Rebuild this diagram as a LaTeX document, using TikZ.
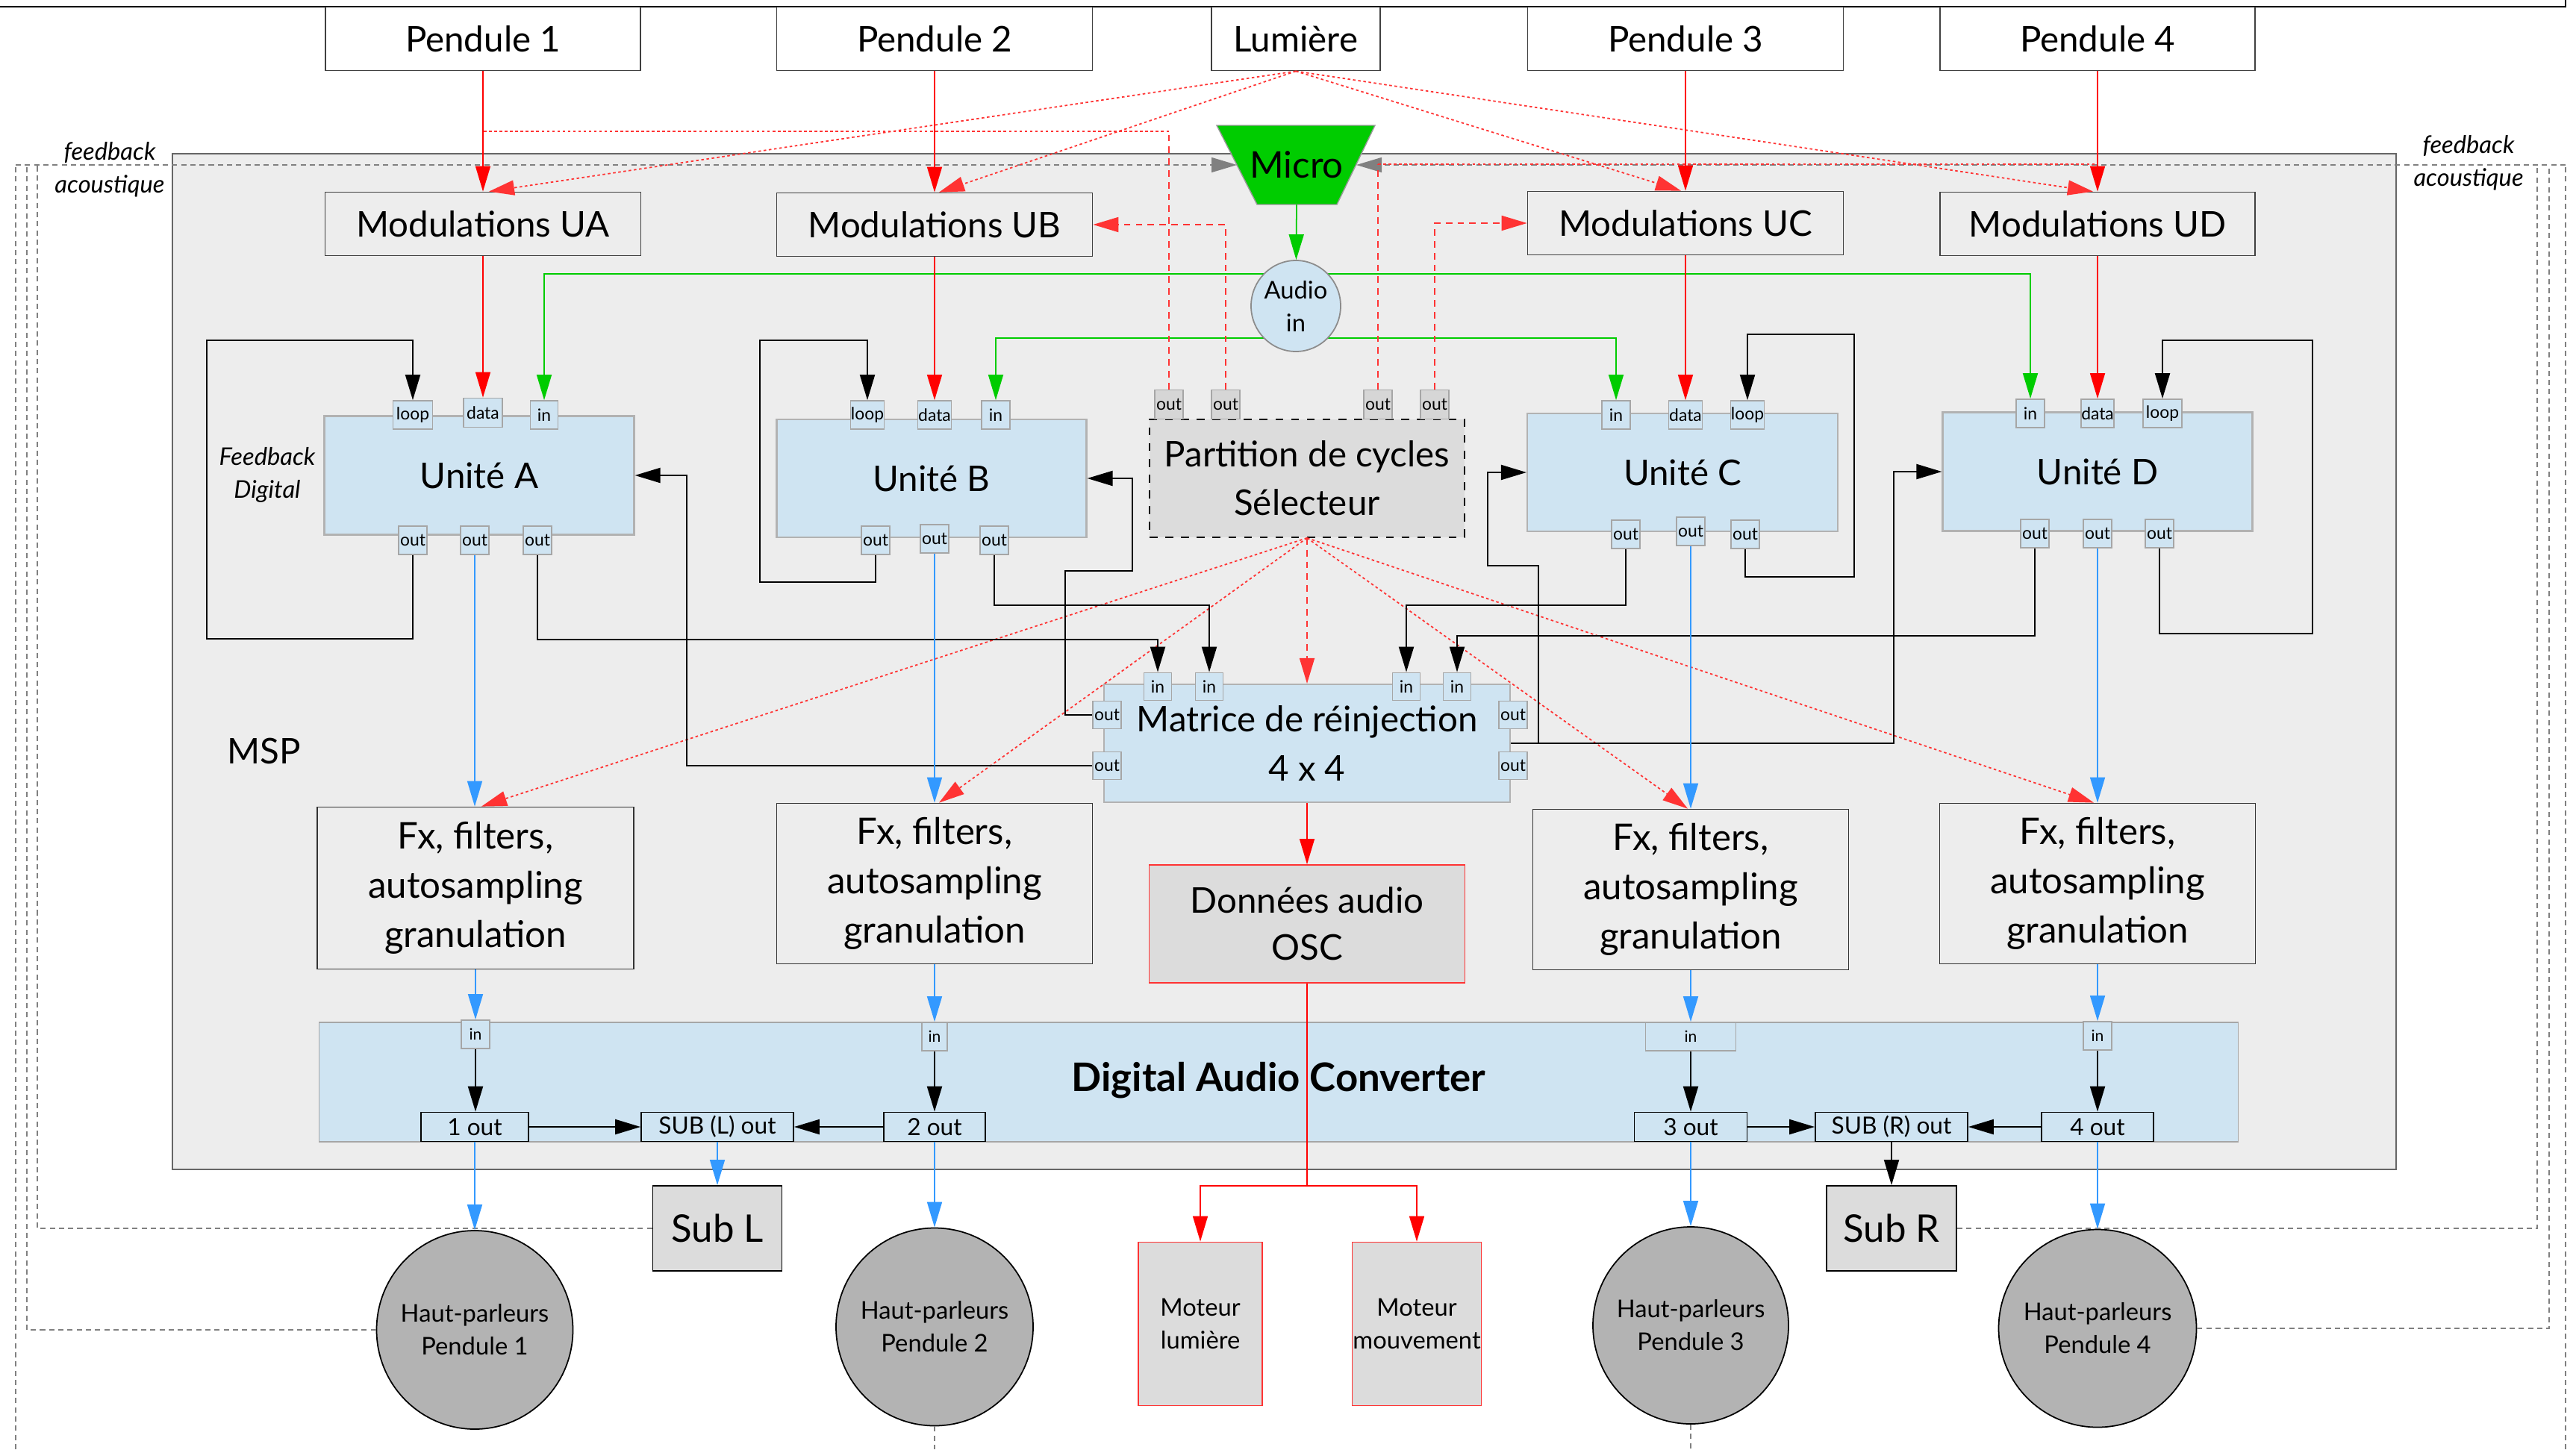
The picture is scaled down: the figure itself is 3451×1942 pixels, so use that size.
\documentclass[tikz,border=0pt]{standalone}
\usepackage{fontspec}
\setmainfont{Lato}
\usetikzlibrary{arrows.meta,shapes.geometric,calc}
\pgfdeclarelayer{back}
\pgfdeclarelayer{under}
\pgfsetlayers{back,under,main}
\newcommand\myfs[2]{\fontsize{#1}{#2}\selectfont}
\definecolor{bggray}{RGB}{237,237,237}
\definecolor{lblue}{RGB}{207,228,242}
\definecolor{selgray}{RGB}{220,220,220}
\definecolor{portgray}{RGB}{214,214,214}
\definecolor{hpgray}{RGB}{179,179,179}
\definecolor{micgreen}{RGB}{0,204,0}
\definecolor{rcol}{RGB}{255,0,0}
\definecolor{rdcol}{RGB}{255,51,51}
\definecolor{bcol}{RGB}{51,153,255}
\definecolor{gcol}{RGB}{0,204,0}
\definecolor{fbgray}{RGB}{128,128,128}
\tikzset{
  wh/.style 2 args={minimum width=#1*0.01cm, minimum height=#2*0.01cm},
  tbox/.style={draw=black!75, line width=0.5pt, fill=white, inner sep=0pt, align=center, font=\myfs{13.5}{18.5}},
  mbox/.style={tbox, fill=bggray},
  unit/.style={draw=black!30, line width=0.6pt, fill=lblue, inner sep=0pt, align=center, font=\myfs{13.5}{18.5}},
  port/.style={draw=black!35, line width=0.5pt, fill=lblue, inner sep=0pt, font=\myfs{6.5}{7}},
  gport/.style={port, fill=portgray},
  fxbox/.style={draw=black!80, line width=0.5pt, fill=bggray, inner sep=0pt, align=center, font=\myfs{14}{18.8}},
  dinport/.style={draw=black!35, line width=0.5pt, fill=lblue, inner sep=0pt, font=\myfs{6}{7}},
  doutport/.style={draw=black, line width=0.5pt, fill=lblue, inner sep=0pt, font=\myfs{9}{10}},
  redbox/.style={draw=rdcol, line width=0.5pt, fill=selgray, inner sep=0pt, align=center},
  spk/.style={ellipse, draw=black, line width=0.5pt, fill=hpgray, inner sep=0pt},
  spktext/.style={align=center, font=\myfs{9.3}{12.5}},
  tipb/.style={-{Triangle[length=0.34cm,width=0.2cm]}},
  blk/.style={draw=black, line width=0.6pt, tipb},
  rline/.style={draw=rcol, line width=0.45pt, tipb},
  rplain/.style={draw=rcol, line width=0.45pt},
  rdot/.style={draw=rdcol, line width=0.5pt, dash pattern=on 1pt off 1pt},
  rdash/.style={draw=rdcol, line width=0.5pt, dash pattern=on 2.5pt off 2pt},
  bline/.style={draw=bcol, line width=0.45pt, tipb},
  gline/.style={draw=gcol, line width=0.5pt, tipb},
  fb/.style={draw=fbgray, line width=0.4pt, dash pattern=on 2pt off 1.5pt},
}
\begin{document}
\begin{tikzpicture}[x=0.01cm,y=-0.01cm]
\useasboundingbox (0,0) rectangle (3451,1942);

% ---------- MSP container ----------
\begin{pgfonlayer}{back}
\fill[white] (0,0) rectangle (3451,1942);
\node[draw=black!60, line width=0.6pt, fill=bggray, wh={2979}{1361}] (msp) at (1720.5,886.5) {};
\end{pgfonlayer}
\draw[line width=0.6pt] (0,9) -- (3437,9) -- (3437,0);
\node[font=\myfs{13.5}{15}] (msplabel) at (354,1006) {MSP};

% ---------- sources ----------
\node[tbox, wh={422}{85}] (p1) at (647,52) {Pendule 1};
\node[tbox, wh={423}{85}] (p2) at (1252,52) {Pendule 2};
\node[tbox, wh={226}{85}] (lum) at (1736,52) {Lumière};
\node[tbox, wh={423}{85}] (p3) at (2258,52) {Pendule 3};
\node[tbox, wh={422}{85}] (p4) at (2810,52) {Pendule 4};

% ---------- modulations ----------
\node[mbox, wh={423}{85}] (ua) at (647,300) {Modulations UA};
\node[mbox, wh={423}{85}] (ub) at (1252,301) {Modulations UB};
\node[mbox, wh={423}{85}] (uc) at (2258,299) {Modulations UC};
\node[mbox, wh={422}{85}] (ud) at (2810,300) {Modulations UD};

% ---------- micro ----------
\filldraw[fill=micgreen, draw=black!40, line width=0.4pt] (1630,168) -- (1842,168) -- (1791,274) -- (1684,274) -- cycle;
\node[font=\myfs{14}{15}] (micro) at (1737,221) {Micro};
\coordinate (micL) at (1657,221);
\coordinate (micR) at (1817,221);
\coordinate (micB) at (1737,274);
\node[ellipse, draw=black!45, line width=0.5pt, fill=lblue, wh={120}{122}, inner sep=0pt,
      label={[spktext]center:Audio\\in}] (audio) at (1736,410) {};
\coordinate (g1) at (1736,367);
\coordinate (g2) at (1736,453);

% ---------- units ----------
\node[unit, wh={415}{159}] (uA) at (642,637) {Unité A};
\node[unit, wh={415}{158}] (uB) at (1248,641) {Unité B};
\node[unit, wh={416}{158}] (uC) at (2254,633) {Unité C};
\node[unit, wh={415}{159}] (uD) at (2810,632) {Unité D};

\node[port, wh={53}{38}] (Aloop) at (553,556) {loop};
\node[port, wh={52}{39}] (Adata) at (647,553) {data};
\node[port, wh={37}{38}] (Ain) at (729,556) {in};
\node[port, wh={38}{38}] (Ao1) at (553,724) {out};
\node[port, wh={38}{38}] (Ao2) at (636,724) {out};
\node[port, wh={38}{38}] (Ao3) at (720,724) {out};

\node[port, wh={45}{38}] (Bloop) at (1162,556) {loop};
\node[port, wh={45}{38}] (Bdata) at (1252,556) {data};
\node[port, wh={38}{38}] (Bin) at (1334,556) {in};
\node[port, wh={38}{38}] (Bo1) at (1173,724) {out};
\node[port, wh={38}{38}] (Bo2) at (1252,722) {out};
\node[port, wh={38}{38}] (Bo3) at (1332,724) {out};

\node[port, wh={38}{38}] (Cin) at (2165,556) {in};
\node[port, wh={45}{38}] (Cdata) at (2258,556) {data};
\node[port, wh={45}{38}] (Cloop) at (2341,556) {loop};
\node[port, wh={38}{38}] (Co1) at (2178,716) {out};
\node[port, wh={38}{38}] (Co2) at (2265,712) {out};
\node[port, wh={38}{38}] (Co3) at (2338,716) {out};

\node[port, wh={38}{38}] (Din) at (2720,554) {in};
\node[port, wh={44}{38}] (Ddata) at (2810,554) {data};
\node[port, wh={52}{38}] (Dloop) at (2897,554) {loop};
\node[port, wh={38}{38}] (Do1) at (2726,715) {out};
\node[port, wh={38}{38}] (Do2) at (2810,715) {out};
\node[port, wh={38}{38}] (Do3) at (2893,715) {out};

\node[font=\myfs{9.3}{12.5}\itshape, align=center] (fdig) at (358,636) {Feedback\\Digital};

% ---------- selector ----------
\node[draw=black, dashed, line width=0.5pt, fill=selgray, wh={422}{158}, inner sep=0pt, align=center, font=\myfs{13.5}{18.5}] (sel) at (1751,641) {Partition de cycles\\Sélecteur};
\node[gport, wh={38}{39}] (s1) at (1566,542) {out};
\node[gport, wh={38}{39}] (s2) at (1642,542) {out};
\node[gport, wh={38}{39}] (s3) at (1846,542) {out};
\node[gport, wh={38}{39}] (s4) at (1922,542) {out};

% ---------- matrix ----------
\node[unit, wh={544}{158}] (mat) at (1751,996) {Matrice de réinjection\\4 x 4};
\node[port, wh={37}{37}] (mi1) at (1551,920) {in};
\node[port, wh={37}{37}] (mi2) at (1620,920) {in};
\node[port, wh={37}{37}] (mi3) at (1884,920) {in};
\node[port, wh={37}{37}] (mi4) at (1952,920) {in};
\node[port, wh={38}{37}] (ml1) at (1483,958) {out};
\node[port, wh={38}{37}] (ml2) at (1483,1026) {out};
\node[port, wh={38}{37}] (mr1) at (2027,958) {out};
\node[port, wh={38}{37}] (mr2) at (2027,1026) {out};

% ---------- effects ----------
\node[fxbox, wh={424}{217}] (fx1) at (637,1190) {Fx, filters,\\autosampling\\granulation};
\node[fxbox, wh={423}{215}] (fx2) at (1252,1184) {Fx, filters,\\autosampling\\granulation};
\node[fxbox, wh={423}{215}] (fx3) at (2265,1192) {Fx, filters,\\autosampling\\granulation};
\node[fxbox, wh={423}{215}] (fx4) at (2810,1184) {Fx, filters,\\autosampling\\granulation};

\node[redbox, wh={423}{158}, font=\myfs{13.5}{18}] (don) at (1751,1238) {Données audio\\OSC};

% ---------- converter ----------
\node[draw=black!35, line width=0.5pt, fill=lblue, wh={2571}{160}, inner sep=0pt] (dac) at (1713,1450) {};
\node[font=\myfs{15}{16}\bfseries] (dactitle) at (1713,1448) {Digital Audio Converter};
\node[dinport, wh={38}{38}] (di1) at (637,1386) {in};
\node[dinport, wh={34}{38}] (di2) at (1252,1389) {in};
\node[dinport, wh={121}{38}] (di3) at (2265,1389) {in};
\node[dinport, wh={38}{38}] (di4) at (2810,1388) {in};
\node[doutport, wh={144}{39}] (do1) at (636,1510) {1 out};
\node[doutport, wh={204}{39}] (subl) at (961,1510) {SUB (L) out};
\node[doutport, wh={136}{39}] (do2) at (1252,1510) {2 out};
\node[doutport, wh={151}{39}] (do3) at (2265,1510) {3 out};
\node[doutport, wh={204}{39}] (subr) at (2534,1510) {SUB (R) out};
\node[doutport, wh={150}{39}] (do4) at (2810,1510) {4 out};

% ---------- outputs ----------
\node[draw=black, line width=0.5pt, fill=selgray, wh={173}{114}, inner sep=0pt, font=\myfs{14.5}{16}] (sl) at (961,1646) {Sub L};
\node[draw=black, line width=0.5pt, fill=selgray, wh={174}{114}, inner sep=0pt, font=\myfs{14.5}{16}] (sr) at (2534,1646) {Sub R};
\node[spk, wh={263}{266}, label={[spktext]center:Haut-parleurs\\Pendule 1}] (hp1) at (636,1782) {};
\node[spk, wh={264}{265}, label={[spktext]center:Haut-parleurs\\Pendule 2}] (hp2) at (1252,1778) {};
\node[spk, wh={262}{264}, label={[spktext]center:Haut-parleurs\\Pendule 3}] (hp3) at (2265,1776) {};
\node[spk, wh={265}{265}, label={[spktext]center:Haut-parleurs\\Pendule 4}] (hp4) at (2810,1780) {};
\node[redbox, wh={166}{219}, font=\myfs{9.3}{12.5}] (mot1) at (1608,1774) {Moteur\\lumière};
\node[redbox, wh={173}{219}, font=\myfs{9.3}{12.5}] (mot2) at (1898,1774) {Moteur\\mouvement};

\node[font=\myfs{9.3}{12.5}\itshape, align=center] (fbl) at (147,227) {feedback\\acoustique};
\node[font=\myfs{9.3}{12.5}\itshape, align=center] (fbr) at (3307,218) {feedback\\acoustique};

% ---------- audio input (green) ----------
\begin{pgfonlayer}{under}
\draw[gline] (g1) -| (Ain.north);
\draw[gline] (g1) -| (Din.north);
\draw[gline] (g2) -| (Bin.north);
\draw[gline] (g2) -| (Cin.north);
\end{pgfonlayer}
\draw[gline] (micB) -- (audio);

% ---------- acoustic feedback (gray dashed) ----------
\draw[fb] (hp1.west) -| (36,221);
\draw[fb] (sl.west) -| (50,221);
\draw[fb] (21,1942) -- (21,221);
\draw[fb, tipb] (21,221) -- (micL);
\draw[fb] (sr.east) -| (3399,221);
\draw[fb] (hp4.east) -| (3415,221);
\draw[fb] (3437,1942) -- (3437,221);
\draw[fb, tipb] (3437,221) -- (micR);
\draw[fb] (hp2.south) -- (1252,1942);
\draw[fb] (hp3.south) -- (2265,1942);

% ---------- control data (red) ----------
\draw[rline] (p1) -- (ua);
\draw[rline] (p2) -- (ub);
\draw[rline] (p3) -- (uc);
\draw[rline] (p4) -- (ud);
\draw[rline] (ua) -- (Adata);
\draw[rline] (ub) -- (Bdata);
\draw[rline] (uc) -- (Cdata);
\draw[rline] (ud) -- (Ddata);

\draw[rdot, tipb] (lum.south) -- ($(ua.north)+(8,0)$);
\draw[rdot, tipb] (lum.south) -- ($(ub.north)+(6,0)$);
\draw[rdot, tipb] (lum.south) -- ($(uc.north)+(-6,0)$);
\draw[rdot, tipb] (lum.south) -- ($(ud.north)+(-6,0)$);

\draw[rdash] (s1.north) -- (1566,176);
\draw[rdot] (1566,176) -- (647,176);
\draw[rdash, tipb] (s2.north) |- (ub.east);
\draw[rdash] (s3.north) -- (1846,220);
\draw[rdot] (1846,220) -- (2810,220);
\draw[rdash, tipb] (s4.north) |- (uc.west);

\draw[rdot, tipb] (sel.south) -- ($(fx1.north)+(8,0)$);
\draw[rdot, tipb] (sel.south) -- ($(fx2.north)+(6,0)$);
\draw[rdash, tipb] (sel.south) -- (mat.north);
\draw[rdot, tipb] (sel.south) -- ($(fx3.north)+(-4,0)$);
\draw[rdot, tipb] (sel.south) -- ($(fx4.north)+(-5,0)$);

\draw[rline] (mat) -- (don);
\draw[rplain] (don.south) -- (1751,1589) coordinate (split);
\draw[rline] (split) -| (mot1.north);
\draw[rline] (split) -| (mot2.north);

% ---------- digital feedback and matrix (black) ----------
\draw[blk] (Ao1.south) -- (553,856) -- (277,856) -- (277,456) -- (553,456) -- (Aloop.north);
\draw[blk] (Bo1.south) -- (1173,780) -- (1018,780) -- (1018,456) -- (1162,456) -- (Bloop.north);
\draw[blk] (Co3.south) -- (2338,773) -- (2484,773) -- (2484,448) -- (2341,448) -- (Cloop.north);
\draw[blk] (Do3.south) -- (2893,849) -- (3098,849) -- (3098,456) -- (2897,456) -- (Dloop.north);

\draw[blk] (Ao3.south) -- (720,857) -| (mi1.north);
\draw[blk] (Bo3.south) -- (1332,811) -| (mi2.north);
\draw[blk] (Co1.south) -- (2178,811) -| (mi3.north);
\draw[blk] (Do1.south) -- (2726,852) -| (mi4.north);

\draw[blk] (ml1.west) -- (1427,958) -- (1427,765) -- (1517,765) -- (1517,641) -- (uB.east);
\draw[blk] (ml2.west) -- (920,1026) -- (920,637) -- (uA.east);
\draw[blk] (mat.east) -- (2061,996) -- (2061,758) -- (1993,758) -- (1993,633) -- (uC.west);
\draw[blk] (mat.east) -- (2537,996) -- (2537,632) -- (uD.west);

% ---------- audio path (blue) ----------
\draw[bline] (Ao2.south) -- (Ao2.south |- fx1.north);
\draw[bline] (Bo2) -- (fx2);
\draw[bline] (Co2) -- (fx3);
\draw[bline] (Do2) -- (fx4);
\draw[bline] (fx1.south) -- (di1.north);
\draw[bline] (fx2) -- (di2);
\draw[bline] (fx3) -- (di3);
\draw[bline] (fx4) -- (di4);

\draw[blk] (di1) -- (do1.north -| di1);
\draw[blk] (di2) -- (do2);
\draw[blk] (di3) -- (do3);
\draw[blk] (di4) -- (do4);
\draw[blk] (do1) -- (subl);
\draw[blk] (do2) -- (subl);
\draw[blk] (do3) -- (subr);
\draw[blk] (do4) -- (subr);

\draw[bline] (do1) -- (hp1);
\draw[bline] (do2) -- (hp2);
\draw[bline] (do3) -- (hp3);
\draw[bline] (do4) -- (hp4);
\draw[bline] (subl) -- (sl);
\draw[blk] (subr) -- (sr);
\end{tikzpicture}
\end{document}
